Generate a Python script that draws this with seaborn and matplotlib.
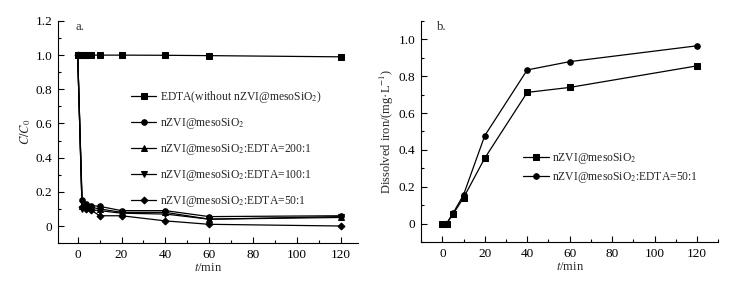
"""Two-panel kinetics chart: C/C0 removal and dissolved iron vs time."""

import matplotlib
matplotlib.use('Agg')
import matplotlib.pyplot as plt
import seaborn as sns
from matplotlib.ticker import MultipleLocator

# ── DATA ──────────────────────────────────────────────────────────────────────

# panel a: C/C0 vs time
t_edta = [0, 1, 2, 3, 4, 5, 6, 10, 20, 40, 60, 120]
c_edta = [1.0, 1.0, 1.0, 1.0, 1.0, 1.0, 1.0, 1.0, 1.0, 0.999, 0.997, 0.99]

t_a = [0, 2, 4, 6, 10, 20, 40, 60, 120]
c_nzvi = [1.0, 0.155, 0.13, 0.12, 0.115, 0.09, 0.09, 0.055, 0.06]
c_200 = [1.0, 0.12, 0.115, 0.11, 0.10, 0.08, 0.08, 0.04, 0.055]
c_100 = [1.0, 0.10, 0.10, 0.095, 0.09, 0.075, 0.07, 0.04, 0.05]
c_50 = [1.0, 0.11, 0.10, 0.095, 0.06, 0.06, 0.03, 0.01, 0.0]

labels_a = [
    r'EDTA(without nZVI@mesoSiO$_2$)',
    r'nZVI@mesoSiO$_2$',
    r'nZVI@mesoSiO$_2$:EDTA=200:1',
    r'nZVI@mesoSiO$_2$:EDTA=100:1',
    r'nZVI@mesoSiO$_2$:EDTA=50:1',
]

# panel b: dissolved iron vs time
t_b = [0, 1, 2, 5, 10, 20, 40, 60, 120]
fe_nzvi = [0.0, 0.0, 0.0, 0.05, 0.14, 0.355, 0.712, 0.739, 0.856]
fe_50 = [0.0, 0.0, 0.0, 0.055, 0.156, 0.477, 0.834, 0.879, 0.965]

labels_b = [r'nZVI@mesoSiO$_2$', r'nZVI@mesoSiO$_2$:EDTA=50:1']


# ── STYLE ─────────────────────────────────────────────────────────────────────

sns.set_style('ticks')
plt.rcParams['font.family'] = ['Liberation Serif', 'DejaVu Serif']
plt.rcParams['mathtext.fontset'] = 'stix'
plt.rcParams['font.size'] = 9

TICK_FS = 9.5
LABEL_FS = 9
LEGEND_FS = 8.4


def style_axes(ax):
    """Left/bottom spines only, inward major+minor ticks."""
    sns.despine(ax=ax)
    for side in ['left', 'bottom']:
        ax.spines[side].set_linewidth(0.8)
        ax.spines[side].set_color('black')
    ax.tick_params(which='both', direction='in', width=0.8, colors='black',
                   labelsize=TICK_FS)
    ax.tick_params(which='major', length=4, pad=4)
    ax.tick_params(which='minor', length=2)
    ax.xaxis.set_major_locator(MultipleLocator(20))
    ax.xaxis.set_minor_locator(MultipleLocator(10))
    ax.yaxis.set_minor_locator(MultipleLocator(0.1))


def fmt_y(v, _):
    return '0' if abs(v) < 1e-9 else f'{v:.1f}'


fig = plt.figure(figsize=(7.56, 2.83), dpi=100)
ax1 = fig.add_axes([0.0767, 0.141, 0.397, 0.785])
ax2 = fig.add_axes([0.557, 0.145, 0.393, 0.781])

kw = dict(color='black', linewidth=0.9, markersize=4, markeredgecolor='black')

# ── PANEL a ───────────────────────────────────────────────────────────────────
series_a = [
    (t_edta, c_edta, 's'),
    (t_a, c_nzvi, 'o'),
    (t_a, c_200, '^'),
    (t_a, c_100, 'v'),
    (t_a, c_50, 'D'),
]
for (x, y, m), lab in zip(series_a, labels_a):
    sns.lineplot(x=x, y=y, ax=ax1, marker=m, label=lab,
                 **(kw | ({'markersize': 3.5} if m == 'D' else {})))

ax1.set_xlim(-9, 128)
ax1.set_ylim(-0.1, 1.2)
ax1.yaxis.set_major_locator(MultipleLocator(0.2))
ax1.yaxis.set_major_formatter(plt.FuncFormatter(fmt_y))
style_axes(ax1)
ax1.set_xlabel(r'$t$/min', fontsize=LABEL_FS, labelpad=1)
ax1.set_ylabel(r'$C/C_0$', fontsize=LABEL_FS, labelpad=2)
ax1.text(0.057, 1.0, 'a.', transform=ax1.transAxes, fontsize=LABEL_FS,
         va='top', ha='left')
ax1.legend(loc='upper left', bbox_to_anchor=(0.215, 0.73), frameon=False,
           fontsize=LEGEND_FS, handlelength=2.2, handletextpad=0.3,
           labelspacing=0.95, borderpad=0.2)

# ── PANEL b ───────────────────────────────────────────────────────────────────
sns.lineplot(x=t_b, y=fe_nzvi, ax=ax2, marker='s', label=labels_b[0], **kw)
sns.lineplot(x=t_b, y=fe_50, ax=ax2, marker='o', label=labels_b[1], **kw)

ax2.set_xlim(-10, 130)
ax2.set_ylim(-0.1, 1.1)
ax2.yaxis.set_major_locator(MultipleLocator(0.2))
ax2.yaxis.set_major_formatter(plt.FuncFormatter(fmt_y))
style_axes(ax2)
ax2.set_xlabel(r'$t$/min', fontsize=LABEL_FS, labelpad=1)
ax2.set_ylabel('Dissolved iron/(mg·L$^{-1}$)', fontsize=LABEL_FS, labelpad=2)
ax2.text(0.054, 1.0, 'b.', transform=ax2.transAxes, fontsize=LABEL_FS,
         va='top', ha='left')
ax2.legend(loc='upper left', bbox_to_anchor=(0.315, 0.45), frameon=False,
           fontsize=LEGEND_FS, handlelength=2.2, handletextpad=0.3,
           labelspacing=0.35, borderpad=0.2)

fig.savefig('out.png', dpi=100)
